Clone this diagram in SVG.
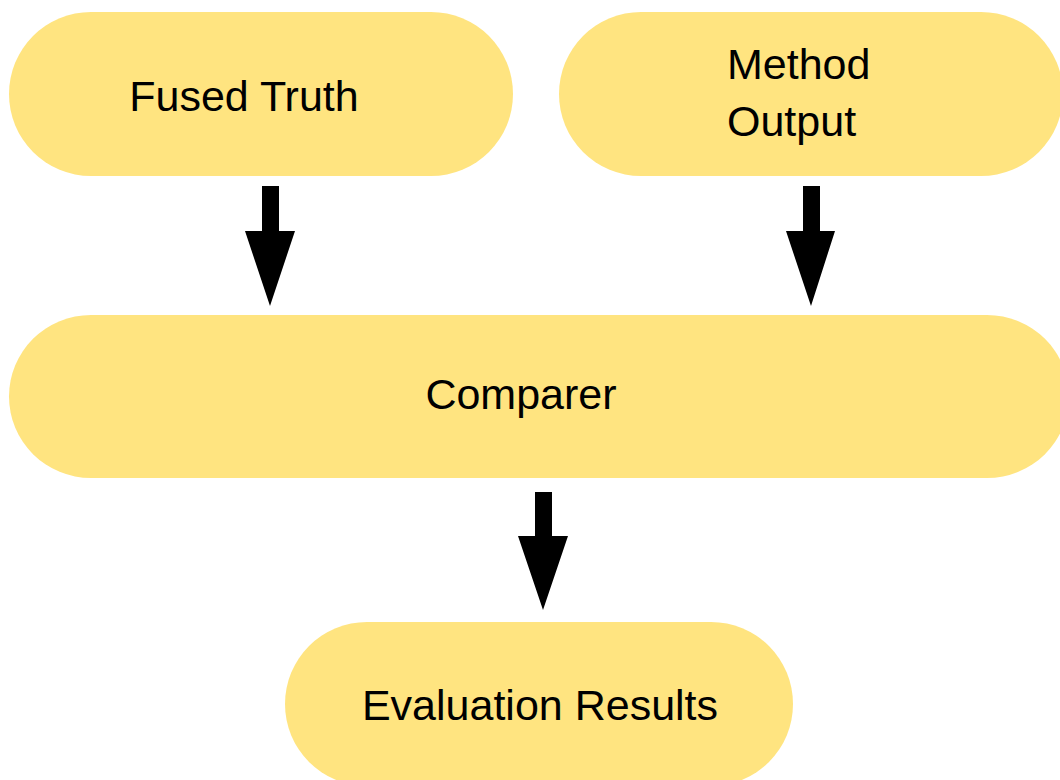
<svg xmlns="http://www.w3.org/2000/svg" width="1060" height="780" viewBox="0 0 1060 780">
  <style>
    .node { fill: #FFE480; }
    .label { font-family: "Liberation Sans", Arial, sans-serif; font-size: 43px; fill: #000; }
    .arrow { fill: #000; }
  </style>
  <rect width="1060" height="780" fill="#fff"/>

  <g id="fused-truth">
    <rect class="node" x="9" y="12" width="504" height="164" rx="82" ry="82"/>
    <text class="label" x="244" y="111" text-anchor="middle">Fused Truth</text>
  </g>

  <g id="method-output">
    <rect class="node" x="559" y="12" width="504" height="164" rx="82" ry="82"/>
    <text class="label" x="727" y="79">Method</text>
    <text class="label" x="727" y="136">Output</text>
  </g>

  <g id="comparer">
    <rect class="node" x="9" y="315" width="1060" height="163" rx="82" ry="81.5"/>
    <text class="label" x="521" y="409" text-anchor="middle">Comparer</text>
  </g>

  <g id="evaluation-results">
    <rect class="node" x="285" y="622" width="508" height="164" rx="82" ry="82"/>
    <text class="label" x="540" y="720" text-anchor="middle">Evaluation Results</text>
  </g>

  <!-- block arrows: shaft then wedge head -->
  <g id="connectors">
    <polygon class="arrow" points="262,186 279,186 279,231 295,231 270,306 245,231 262,231"/>
    <polygon class="arrow" points="803,186 820,186 820,231 835,231 811,306 786,231 803,231"/>
    <polygon class="arrow" points="535,492 552,492 552,536 568,536 543,610 518,536 535,536"/>
  </g>
</svg>
